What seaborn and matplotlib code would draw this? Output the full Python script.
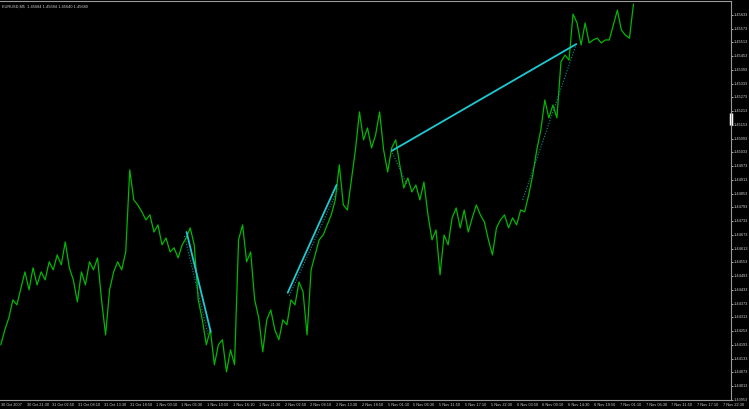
import numpy as np
import pandas as pd
import matplotlib
matplotlib.use('Agg')
import matplotlib.pyplot as plt
import seaborn as sns

# EURUSD M5 close prices, one value every 10 bars
close = [
    1.44194, 1.44259, 1.44312, 1.44390, 1.44368, 1.44442, 1.44512, 1.44434,
    1.44530, 1.44455, 1.44512, 1.44477, 1.44556, 1.44521, 1.44586, 1.44543,
    1.44643, 1.44530, 1.44477, 1.44381, 1.44512, 1.44455, 1.44556, 1.44521,
    1.44573, 1.44390, 1.44237, 1.44434, 1.44512, 1.44556, 1.44521, 1.44599,
    1.44957, 1.44826, 1.44804, 1.44774, 1.44739, 1.44761, 1.44686, 1.44717,
    1.44630, 1.44660, 1.44599, 1.44617, 1.44573, 1.44630, 1.44660, 1.44704,
    1.44630, 1.44390, 1.44303, 1.44194, 1.44259, 1.44107, 1.44194, 1.44216,
    1.44076, 1.44172, 1.44107, 1.44652, 1.44717, 1.44556, 1.44599, 1.44390,
    1.44312, 1.44163, 1.44303, 1.44346, 1.44259, 1.44216, 1.44303, 1.44281,
    1.44390, 1.44368, 1.44468, 1.44425, 1.44237, 1.44521, 1.44586, 1.44652,
    1.44673, 1.44717, 1.44761, 1.44826, 1.44979, 1.44804, 1.44782, 1.44913,
    1.45044, 1.45210, 1.45088, 1.45140, 1.45053, 1.45109, 1.45210, 1.45044,
    1.44948, 1.45053, 1.45088, 1.44979, 1.44878, 1.44922, 1.44861, 1.44891,
    1.44826, 1.44904, 1.44761, 1.44652, 1.44695, 1.44499, 1.44673, 1.44630,
    1.44748, 1.44791, 1.44704, 1.44782, 1.44686, 1.44748, 1.44804, 1.44761,
    1.44730, 1.44652, 1.44586, 1.44704, 1.44739, 1.44761, 1.44704, 1.44748,
    1.44717, 1.44782, 1.44774, 1.44848, 1.44935, 1.45044, 1.45131, 1.45262,
    1.45184, 1.45240, 1.45184, 1.45428, 1.45458, 1.45436, 1.45637, 1.45598,
    1.45502, 1.45598, 1.45511, 1.45524, 1.45532, 1.45511, 1.45524, 1.45524,
    1.45589, 1.45654, 1.45567, 1.45545, 1.45532, 1.45681,
]
bar_step = 10

# trend lines: (bar0, price0, bar1, price1)
solid_lines = [
    (461, 1.44686, 521, 1.44250),
    (712, 1.44421, 833, 1.44891),
    (970, 1.45040, 1428, 1.45506),
]
dotted_lines = [
    (456, 1.44669, 516, 1.44224),
    (716, 1.44408, 838, 1.44878),
    (972, 1.45031, 1007, 1.44896),
    (1295, 1.44826, 1428, 1.45506),
]

time_labels = [
    '30 Oct 2007', '30 Oct 21:30', '31 Oct 02:50', '31 Oct 08:10', '31 Oct 13:30',
    '31 Oct 18:50', '1 Nov 00:10', '1 Nov 05:30', '1 Nov 10:50', '1 Nov 16:10',
    '1 Nov 21:30', '2 Nov 02:50', '2 Nov 08:10', '2 Nov 13:30', '2 Nov 18:50',
    '5 Nov 01:10', '5 Nov 06:30', '5 Nov 11:50', '5 Nov 17:10', '5 Nov 22:30',
    '6 Nov 03:50', '6 Nov 09:10', '6 Nov 14:30', '6 Nov 19:50', '7 Nov 01:10',
    '7 Nov 06:30', '7 Nov 11:50', '7 Nov 17:10', '7 Nov 22:30',
]
bars_per_label = 64
price_low, price_step, n_price = 1.43953, 0.0006, 29
price_top = 1.45694
header = 'EURUSD,M5  1.45684 1.45684 1.45640 1.45680'
marker_price = (1.45153, 1.45205)

sns.set_theme(style='dark', rc={'axes.facecolor': 'black', 'figure.facecolor': 'black'})
plt.rcParams['font.family'] = ['Liberation Sans', 'DejaVu Sans']

df = pd.DataFrame({'bar': np.arange(len(close)) * bar_step, 'close': close})

fig = plt.figure(figsize=(7.49, 4.09), dpi=100)
ax = fig.add_axes([0, 9 / 409, 731 / 749, 399 / 409])
ax.set_facecolor('black')

sns.lineplot(data=df, x='bar', y='close', ax=ax, color='#00b800',
             linewidth=0.9, estimator=None)

for b0, p0, b1, p1 in dotted_lines:
    ax.plot([b0, b1], [p0, p1], color='#0c8f96', lw=0.8, ls=(0, (1, 1.5)))
for b0, p0, b1, p1 in solid_lines:
    ax.plot([b0, b1], [p0, p1], color='#1ccad2', lw=1.3)

ax.set_xlim(-2, 1812)
ax.set_ylim(price_low, price_top)

xt = np.arange(len(time_labels)) * bars_per_label
ax.set_xticks(xt)
ax.set_xticklabels(time_labels, ha='left')
yt = np.round(price_low + price_step * np.arange(n_price), 5)
ax.set_yticks(yt)
ax.set_yticklabels([f'{v:.5f}' for v in yt], va='center')
ax.yaxis.tick_right()

ax.tick_params(axis='both', colors='#c8c8c8', labelsize=2.8, length=1.6,
               width=0.6, direction='out', pad=0.6)
for lbl in ax.get_xticklabels() + ax.get_yticklabels():
    lbl.set_color('#d0d0d0')

ax.spines['left'].set_visible(False)
for side in ['right', 'bottom', 'top']:
    ax.spines[side].set_color('#9a9a9a')
    ax.spines[side].set_linewidth(0.8)
ax.grid(False)
ax.set_xlabel('')
ax.set_ylabel('')

# current price marker on the price scale
ax.plot([1, 1], list(marker_price), color='white', lw=2.5,
        transform=ax.get_yaxis_transform(), clip_on=False, solid_capstyle='butt')

ax.text(0.003, 0.992, header, transform=ax.transAxes, fontsize=2.8,
        color='#d0d0d0', ha='left', va='top')

fig.savefig('out.png', dpi=100, facecolor='black')
